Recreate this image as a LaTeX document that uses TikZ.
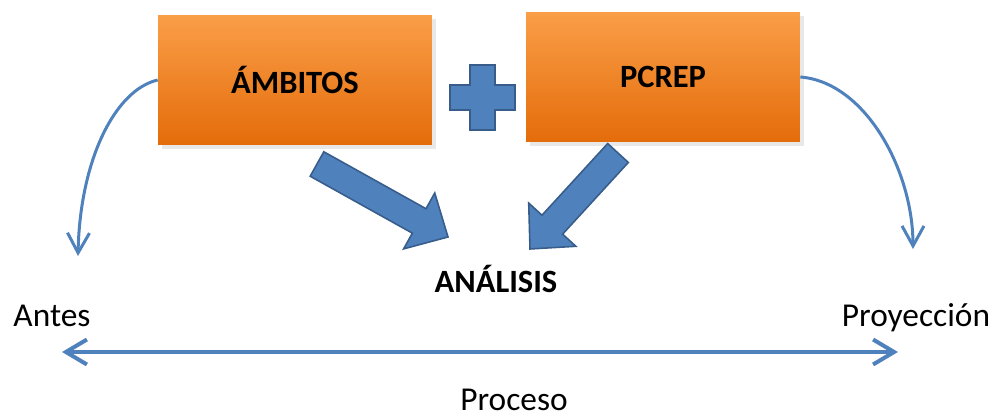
\documentclass[tikz,border=0pt]{standalone}
\usepackage{fontspec}
\setmainfont{Carlito}
\usepackage{tikz}
\usetikzlibrary{calc}
\usetikzlibrary{positioning}
\usetikzlibrary{arrows.meta}
\usetikzlibrary{shadows}
\definecolor{lorange}{HTML}{FA9E48}
\definecolor{dorange}{HTML}{E46C0A}
\definecolor{sblue}{HTML}{4F81BD}
\definecolor{dblue}{HTML}{385D8A}
\tikzset{
  orangebox/.style={top color=lorange, bottom color=dorange, minimum width=5.48cm,
    minimum height=2.6cm, inner sep=0pt, font=\fontsize{18.5}{22}\selectfont\bfseries,
    drop shadow={opacity=0.18}},
  lbl/.style={anchor=base, inner sep=0pt, font=\fontsize{19}{22}\selectfont},
  thinarrow/.style={sblue, line width=0.06cm, -{Straight Barb[length=0.4cm,width=0.44cm]}},
  fatarrow/.style={fill=sblue, draw=dblue, line width=0.9pt, line join=miter},
}
% block arrow from tail #1 to tip #2
\newcommand{\fatarr}[2]{%
  \coordinate (headbase) at ($(#2)!0.66cm!(#1)$);
  \filldraw[fatarrow] ($(#1)!0.28cm!90:(#2)$) -- ($(headbase)!0.28cm!90:(#2)$)
    -- ($(headbase)!0.64cm!90:(#2)$) -- (#2) -- ($(headbase)!0.64cm!-90:(#2)$)
    -- ($(headbase)!0.28cm!-90:(#2)$) -- ($(#1)!0.28cm!-90:(#2)$) -- cycle;
}
\begin{document}
\begin{tikzpicture}[x=0.02cm,y=-0.02cm]
\useasboundingbox (0,0) rectangle (995,419);
\node[orangebox] (amb) at (295,80) {ÁMBITOS};
\node[orangebox] (pcrep) at (663,77) {PCREP};
\node[lbl, font=\fontsize{18.5}{22}\selectfont\bfseries] (analisis) at (496,292) {ANÁLISIS};
\node[lbl] (antes) at (52,326) {Antes};
\node[lbl] (proy) at (916,326) {Proyección};
\node[lbl] (proceso) at (514,410) {Proceso};
% plus sign
\coordinate (plus) at (482.5,97.5);
\filldraw[fatarrow] (plus) ++(-12.5,-32.5) -- ++(25,0) -- ++(0,20) -- ++(20,0) -- ++(0,25)
  -- ++(-20,0) -- ++(0,20) -- ++(-25,0) -- ++(0,-20) -- ++(-20,0) -- ++(0,-25) -- ++(20,0) -- cycle;
% block arrows
\coordinate (ambtail) at (317,164);
\coordinate (ambtip) at (448,237);
\coordinate (pcrtail) at (618,153);
\coordinate (pcrtip) at (530,249);
\fatarr{ambtail}{ambtip}
\fatarr{pcrtail}{pcrtip}
% curved arrows
\coordinate (antestip) at (78,256);
\coordinate (proytip) at (913,249);
\draw[thinarrow] (amb.west) .. controls (115,90) and (80,160) .. (antestip);
\draw[thinarrow] (pcrep.east) .. controls (865,82) and (913,170) .. (proytip);
% process line
\coordinate (pleft) at (62,352);
\coordinate (pright) at (898,352);
\draw[sblue, line width=0.08cm, {Straight Barb[length=0.42cm,width=0.5cm]}-{Straight Barb[length=0.42cm,width=0.5cm]}] (pleft) -- (pright);
\end{tikzpicture}
\end{document}
